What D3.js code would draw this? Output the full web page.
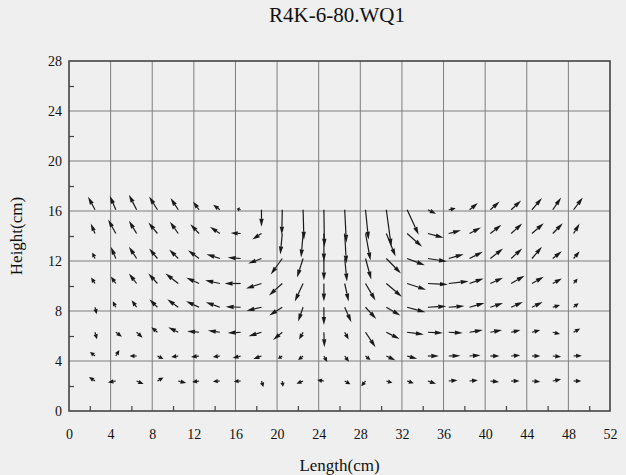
<!DOCTYPE html>
<html>
<head>
<meta charset="utf-8">
<script src="https://cdn.jsdelivr.net/npm/d3@7"></script>
<style>
  body { margin: 0; background: #efefef; }
  svg { display: block; }
  text { font-family: "Liberation Serif", "DejaVu Serif", serif; fill: #111; }
</style>
</head>
<body>
<div id="chart"></div>
<script>
// column (Length) and row (Height) positions of the measuring points, cm
var COLS = [2.5, 4.5, 6.5, 8.5, 10.5, 12.5, 14.5, 16.5, 18.5, 20.5, 22.5, 24.5,
            26.5, 28.5, 30.5, 32.5, 34.5, 36.5, 38.5, 40.5, 42.5, 44.5, 46.5, 48.5];
var ROWS = [16.1, 14.2, 12.2, 10.2, 8.3, 6.3, 4.4, 2.4];

// horizontal component of each arrow (cm on the plot), one list per row
var U = [
  [-0.67,-0.58,-0.74,-0.80,-0.74,-0.58,-0.64,-0.38, 0.00,-0.05, 0.08, 0.05, 0.16, 0.29, 0.48, 1.11, 0.77, 0.67, 0.80, 0.89, 0.96, 0.96, 0.80, 0.89],
  [-0.41,-0.74,-0.74,-0.87,-0.80,-0.84,-0.96,-0.96,-0.89,-0.19,-0.19, 0.00, 0.16, 0.48, 0.89, 1.44, 1.51, 1.18, 1.09, 1.06, 1.06, 1.13, 0.96, 0.58],
  [-0.26,-0.48,-0.74,-0.80,-0.87,-1.06,-1.28,-1.25,-1.28,-1.11,-0.58, 0.00, 0.22, 0.55, 1.41, 1.70, 1.83, 1.44, 1.28, 1.22, 1.06, 0.96, 0.87, 0.58],
  [-0.38,-0.48,-0.74,-0.87,-1.22,-1.22,-1.41,-1.54,-1.49,-1.28,-0.80, 0.00, 0.38, 0.96, 1.49, 1.83, 1.92, 1.92, 1.35, 1.22, 1.28, 1.13, 0.87, 0.38],
  [ 0.16,-0.29,-0.48,-0.77,-1.06,-1.25,-1.35,-1.44,-1.44,-1.25,-0.48, 0.00, 0.64, 1.03, 1.35, 1.76, 1.76, 1.51, 1.44, 1.22, 1.13, 1.03, 0.70, 0.48],
  [ 0.19, 0.58, 0.58,-0.58,-0.96,-1.15,-1.15,-1.25,-1.25,-0.89,-0.38, 0.05, 0.38, 0.96, 1.28, 1.61, 1.44, 1.35, 1.28, 1.13, 0.89, 0.80, 0.70, 0.64],
  [-0.48, 0.34,-0.67, 0.58,-0.67,-0.77,-0.67,-0.77,-0.77,-0.41,-0.48, 0.32, 0.41, 0.48, 0.87, 0.96, 1.06, 1.13, 1.06, 0.87, 0.87, 0.80, 0.80, 0.80],
  [-0.58,-0.77, 0.67, 0.58, 0.77,-0.67,-0.67,-0.67, 0.19, 0.07,-0.64,-0.64, 0.55,-0.41, 0.58, 0.64, 0.77, 0.84, 0.80, 0.84, 0.80, 0.80, 0.80, 0.74]
];
// vertical component of each arrow (cm on the plot)
var V = [
  [ 1.04, 1.12, 1.20, 1.06, 0.94, 0.66, 0.40, 0.08,-1.36,-2.00,-2.40,-2.96,-2.64,-2.40,-2.96,-2.00,-0.32, 0.12, 0.54, 0.66, 0.74, 0.94, 0.98, 0.98],
  [ 0.80, 1.12, 1.02, 0.88, 0.94, 0.74, 0.54, 0.04,-0.48,-1.68,-1.92,-2.24,-2.40,-2.16,-1.84,-1.06,-0.34, 0.26, 0.48, 0.70, 0.80, 0.82, 0.82, 0.80],
  [ 0.48, 0.94, 0.94, 0.80, 0.72, 0.66, 0.34, 0.08,-0.40,-1.28,-1.52,-1.76,-1.84,-1.68,-1.20,-0.54,-0.24, 0.34, 0.54, 0.80, 0.80, 0.94, 0.58, 0.58],
  [ 0.48, 0.56, 0.80, 0.80, 0.80, 0.46, 0.26, 0.00,-0.40,-0.96,-1.44,-1.44,-1.44,-1.36,-1.06,-0.50,-0.08, 0.18, 0.40, 0.46, 0.62, 0.54, 0.40, 0.40],
  [-0.56, 0.48, 0.56, 0.64, 0.64, 0.48, 0.40, 0.04,-0.28,-0.66,-1.14,-1.42,-1.20,-0.94,-0.66,-0.40, 0.08, 0.10, 0.34, 0.34, 0.42, 0.42, 0.18, 0.32],
  [-0.56,-0.36,-0.44, 0.40, 0.40, 0.08, 0.14,-0.06,-0.32,-0.62,-0.58,-1.20,-0.58,-1.20,-0.54,-0.18,-0.06,-0.06, 0.18, 0.18, 0.18, 0.18,-0.14, 0.30],
  [ 0.32, 0.48, 0.00,-0.24,-0.08,-0.08,-0.08,-0.16,-0.24,-0.22,-0.32,-0.48,-0.46,-0.32,-0.34,-0.22, 0.00, 0.02, 0.06, 0.00, 0.06, 0.00,-0.06, 0.02],
  [ 0.32,-0.12,-0.24, 0.28,-0.16,-0.08,-0.04,-0.04,-0.48,-0.46,-0.22, 0.08,-0.26,-0.42,-0.14,-0.18,-0.22, 0.06, 0.06,-0.08, 0.00,-0.06, 0.14, 0.00]
];

var X_TICKS = [0, 4, 8, 12, 16, 20, 24, 28, 32, 36, 40, 44, 48, 52];
var Y_TICKS = [0, 4, 8, 12, 16, 20, 24, 28];
var X_MINOR = [2, 6, 10, 14, 18, 22, 26, 30, 34, 38, 42, 46, 50];
var Y_MINOR = [2, 6, 10, 14, 18, 22, 26];

var width = 626, height = 475;
var margin = {left: 69, right: 16, top: 61, bottom: 64};

var svg = d3.select('#chart').append('svg')
    .attr('width', width)
    .attr('height', height);

svg.append('rect').attr('width', width).attr('height', height).attr('fill', '#efefef');

var x = d3.scaleLinear().domain([0, 52]).range([margin.left, width - margin.right]);
var y = d3.scaleLinear().domain([0, 28]).range([height - margin.bottom, margin.top]);

// grid
var g = svg.append('g');
g.selectAll('.vgrid').data(X_TICKS.slice(1, -1)).enter().append('line')
    .attr('x1', function(d){ return x(d); }).attr('x2', function(d){ return x(d); })
    .attr('y1', y(0)).attr('y2', y(28))
    .attr('stroke', '#7e7e7e').attr('stroke-width', 1);
g.selectAll('.hgrid').data(Y_TICKS.slice(1, -1)).enter().append('line')
    .attr('y1', function(d){ return y(d); }).attr('y2', function(d){ return y(d); })
    .attr('x1', x(0)).attr('x2', x(52))
    .attr('stroke', '#7e7e7e').attr('stroke-width', 1);

// axes: labels for majors, short inner ticks for minors
var xAxis = svg.append('g').attr('transform', 'translate(0,' + y(0) + ')')
    .call(d3.axisBottom(x).tickValues(X_TICKS).tickSize(0).tickPadding(18));
var yAxis = svg.append('g').attr('transform', 'translate(' + x(0) + ',0)')
    .call(d3.axisLeft(y).tickValues(Y_TICKS).tickSize(0).tickPadding(7));
svg.append('g').attr('transform', 'translate(0,' + y(0) + ')')
    .call(d3.axisTop(x).tickValues(X_MINOR).tickSize(5).tickFormat(''));
svg.append('g').attr('transform', 'translate(' + x(0) + ',0)')
    .call(d3.axisRight(y).tickValues(Y_MINOR).tickSize(5).tickFormat(''));
svg.selectAll('.domain').remove();
svg.selectAll('.tick line').attr('stroke', '#444').attr('stroke-width', 1.2);
[xAxis, yAxis].forEach(function(a){
    a.selectAll('text').style('font-family', '"Liberation Serif", serif')
        .style('font-size', '14px').attr('fill', '#111');
});

// frame
svg.append('rect')
    .attr('x', x(0)).attr('y', y(28))
    .attr('width', x(52) - x(0)).attr('height', y(0) - y(28))
    .attr('fill', 'none').attr('stroke', '#444').attr('stroke-width', 1.6);

// arrows
var arrows = [];
ROWS.forEach(function(ry, i){
    COLS.forEach(function(cx, j){
        arrows.push({x: cx, y: ry, u: U[i][j], v: V[i][j]});
    });
});

var ag = svg.append('g');
arrows.forEach(function(d){
    var x0 = x(d.x), y0 = y(d.y);
    var x1 = x(d.x + d.u), y1 = y(d.y + d.v);
    var dx = x1 - x0, dy = y1 - y0;
    var len = Math.sqrt(dx * dx + dy * dy);
    if (len < 0.5) return;
    var ux = dx / len, uy = dy / len;
    var hl = Math.min(8, len * 0.7), hw = 2.2;
    var bx = x1 - ux * hl, by = y1 - uy * hl;
    ag.append('line')
        .attr('x1', x0).attr('y1', y0).attr('x2', bx).attr('y2', by)
        .attr('stroke', '#1a1a1a').attr('stroke-width', 1.2);
    ag.append('path')
        .attr('d', 'M' + x1 + ',' + y1 +
                   'L' + (bx - uy * hw) + ',' + (by + ux * hw) +
                   'L' + (bx + uy * hw) + ',' + (by - ux * hw) + 'Z')
        .attr('fill', '#1a1a1a');
});

// titles
svg.append('text')
    .attr('x', 337).attr('y', 22)
    .attr('text-anchor', 'middle')
    .style('font-size', '21px')
    .text('R4K-6-80.WQ1');

svg.append('text')
    .attr('x', (x(0) + x(52)) / 2).attr('y', 471)
    .attr('text-anchor', 'middle')
    .style('font-size', '17px')
    .text('Length(cm)');

svg.append('text')
    .attr('transform', 'translate(22,' + ((y(0) + y(28)) / 2) + ') rotate(-90)')
    .attr('text-anchor', 'middle')
    .style('font-size', '17px')
    .text('Height(cm)');
</script>
</body>
</html>
